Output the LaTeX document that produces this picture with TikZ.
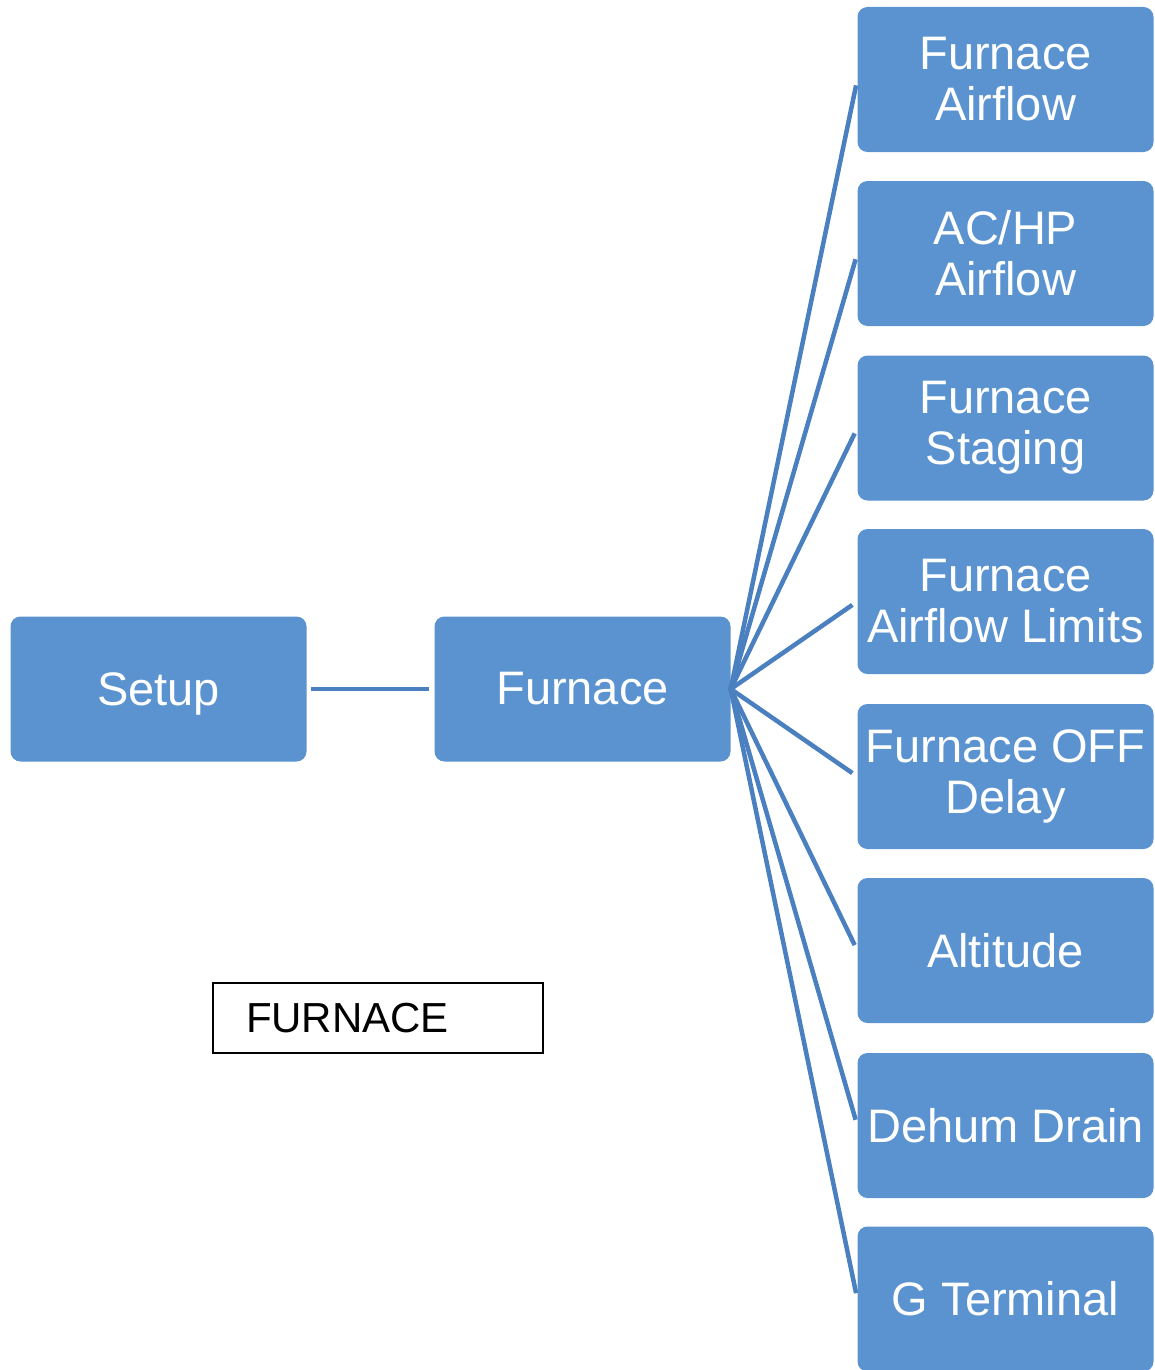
\documentclass[tikz,border=0pt]{standalone}
\usepackage{fontspec}
\setmainfont{Liberation Sans}
\definecolor{boxblue}{HTML}{5A93D0}
\definecolor{linkblue}{HTML}{4A7FC0}
\begin{document}
\begin{tikzpicture}[x=1pt,y=-1pt,
  menubox/.style={fill=boxblue, draw=none, rounded corners=10pt,
    minimum width=296pt, minimum height=145pt, inner sep=0pt,
    text=white, align=center, font=\fontsize{47}{51}\selectfont},
  link/.style={draw=linkblue, line width=4.5pt},
  tagbox/.style={draw=black, line width=1.2pt, minimum width=330pt,
    minimum height=70pt, inner sep=0pt, font=\fontsize{42}{46}\selectfont}]
  \useasboundingbox (0,0) rectangle (1155,1370);

  % main chain
  \node[menubox, text depth=0pt] (setup) at (158.5,689) {Setup};
  \node[menubox] (furn) at (582.5,689) {Furnace};

  % submenu column
  \node[menubox] (s1) at (1005.5,79.5) {Furnace\\Airflow};
  \node[menubox] (s2) at (1005.5,253.5) {AC/HP\\Airflow};
  \node[menubox] (s3) at (1005.5,428) {Furnace\\Staging};
  \node[menubox] (s4) at (1005.5,601.5) {Furnace\\Airflow Limits};
  \node[menubox] (s5) at (1005.5,776.5) {Furnace OFF\\Delay};
  \node[menubox] (s6) at (1005.5,950.5) {Altitude};
  \node[menubox] (s7) at (1005.5,1125.5) {Dehum Drain};
  \node[menubox] (s8) at (1005.5,1299) {G Terminal};

  % caption box
  \node[tagbox] (tag) at (378,1018) {\hspace*{-61pt}FURNACE};

  % connectors
  \draw[link, shorten <=4pt, shorten >=5pt] (setup.east) -- (furn.west);
  \foreach \s in {s1,s2,s3,s4,s5,s6,s7,s8}
    \draw[link, shorten <=-2pt, shorten >=6pt] (furn.east) -- (\s.west);
\end{tikzpicture}
\end{document}
